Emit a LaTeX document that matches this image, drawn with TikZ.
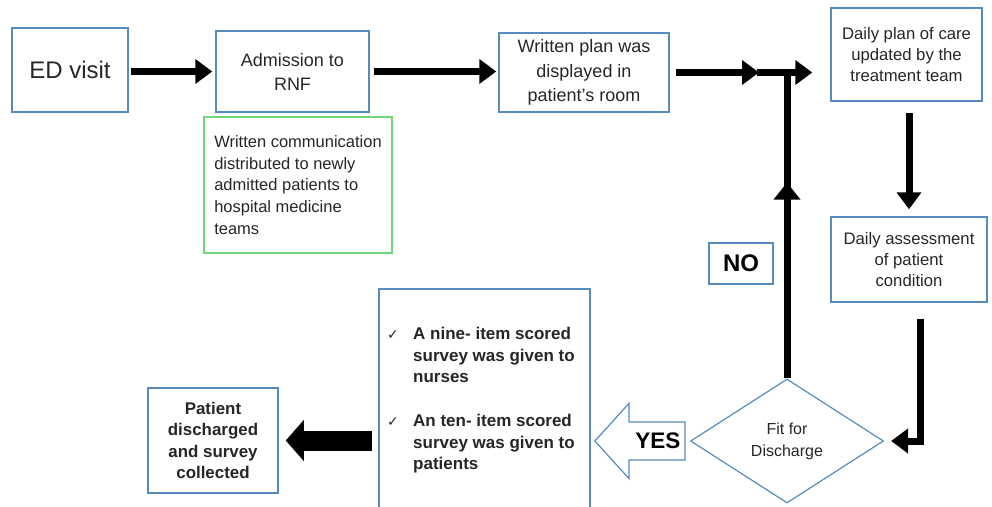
\documentclass[tikz,border=0pt]{standalone}
\usepackage{fontspec}
\setmainfont{Liberation Sans}
\newfontfamily\symfont{DejaVu Sans}
\usetikzlibrary{arrows.meta,shapes.geometric,decorations.markings}
\definecolor{boxblue}{RGB}{86,140,189}
\definecolor{notegreen}{RGB}{112,214,122}
\definecolor{ink}{RGB}{38,38,38}
\newcommand{\fs}[2]{\fontsize{#1}{#2}\selectfont}

\begin{document}
\begin{tikzpicture}[x=1pt, y=-1pt,
	box/.style={draw=boxblue, line width=1.5pt, text=ink, align=center, inner sep=0pt},
	bigarrow/.style={line width=7pt, -{Triangle[length=17pt,width=24pt]}},
	midarrow/.style={line width=7pt, postaction={decorate},
		decoration={markings, mark=at position 0.64 with {\arrow{Triangle[length=17pt,width=26pt]}}}}]
	\useasboundingbox (0,0) rectangle (992,506);
	% top row
	\node[box, minimum width=116pt, minimum height=84pt, font=\fs{24}{28}] (ed) at (70,70) {ED visit};
	\node[box, minimum width=153pt, minimum height=81pt, font=\fs{18}{24}] (adm) at (292.5,71.5) {Admission to\\RNF};
	\node[box, minimum width=170pt, minimum height=79pt, font=\fs{18}{24.5}] (plan) at (584,72.5) {Written plan was\\displayed in\\patient's room};
	\node[box, minimum width=151pt, minimum height=93pt, font=\fs{16.7}{21.3}] (daily) at (906.5,54.5) {Daily plan of care\\updated by the\\treatment team};
	\node[box, draw=notegreen, align=left, minimum width=188pt, minimum height=136pt, font=\fs{16.5}{21.7}] (note) at (298,185) {Written communication\\distributed to newly\\admitted patients to\\hospital medicine\\teams};
	% right column and loop
	\node[box, minimum width=156pt, minimum height=85pt, font=\fs{16.7}{21}] (assess) at (909,259.5) {Daily assessment\\of patient\\condition};
	\node[box, minimum width=64pt, minimum height=41pt, text=black, font=\bfseries\fs{24}{28}] (no) at (741,263.5) {NO};
	\node[draw=boxblue, line width=1.2pt, diamond, aspect=1.56, minimum width=193pt, minimum height=124pt, inner sep=0pt, text=ink, align=center, font=\fs{16}{22}] (fit) at (787,441) {Fit for\\Discharge};
	% bottom row
	\draw[boxblue, line width=1.2pt] ([xshift=-5pt]fit.west) -- ++(0,-19) -- ++(-56,0) -- ++(0,-18.5) -- ++(-34,37.5) -- ++(34,37.5) -- ++(0,-18.5) -- ++(56,0) -- cycle;
	\node[text=black, font=\bfseries\fs{22.5}{28}] (yes) at ([xshift=-32pt]fit.west) {YES};
	\node[box, anchor=north west, minimum width=211pt, minimum height=222pt] (survey) at (378,288) {};
	\node[anchor=north west, align=left, inner sep=0pt, text=ink, font=\bfseries\fs{17}{21.5}] (item1) at (413,327) {A nine- item scored\\survey was given to\\nurses};
	\node[anchor=north west, align=left, inner sep=0pt, text=ink, font=\bfseries\fs{17}{21.5}] (item2) at (413,414) {An ten- item scored\\survey was given to\\patients};
	\node[text=ink, font=\symfont\fs{14}{16}] (tick1) at (393,335) {✓};
	\node[text=ink, font=\symfont\fs{14}{16}] (tick2) at (393,422) {✓};
	\node[box, minimum width=130pt, minimum height=105pt, font=\bfseries\fs{16.9}{21.5}] (patient) at (213,440.5) {Patient\\discharged\\and survey\\collected};
	% connectors
	\coordinate (join) at (fit.north |- plan.east);
	\draw[bigarrow] ([xshift=2pt]ed.east |- adm.west) -- ([xshift=-3pt]adm.west);
	\draw[bigarrow] ([xshift=4pt]adm.east) -- ([xshift=-2pt]plan.west |- adm.east);
	\draw[bigarrow] ([xshift=6pt]plan.east) -- ([xshift=-28pt]join);
	\draw[bigarrow] ([xshift=-30pt]join) -- ([xshift=-18pt]daily.west |- join);
	\draw[midarrow] (fit.north) -- (join);
	\draw[bigarrow] ([yshift=-11pt]daily.south -| assess.north) -- ([yshift=7pt]assess.north);
	\draw[bigarrow] ([xshift=11pt,yshift=-16pt]assess.south) |- ([xshift=7pt]fit.east);
	\draw[line width=20pt, -{Triangle[length=18pt,width=40pt]}] ([xshift=-6pt]survey.west |- patient.east) -- ([xshift=7pt]patient.east);
\end{tikzpicture}
\end{document}
